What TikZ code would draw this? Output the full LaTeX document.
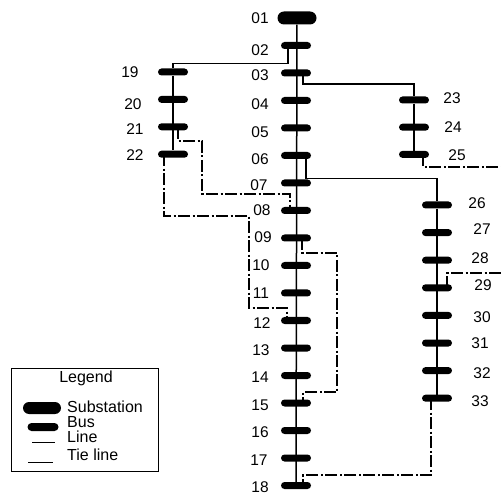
\documentclass[tikz,border=0pt]{standalone}
\usepackage{fontspec}
\setmainfont{Liberation Sans}
\usetikzlibrary{calc}

\begin{document}
\begin{tikzpicture}[x=1pt, y=-1pt,
  bus/.style={fill=black, rounded corners=3.5pt, minimum width=30pt, minimum height=7pt, inner sep=0pt},
  sub/.style={fill=black, rounded corners=6.5pt, minimum width=39pt, minimum height=13pt, inner sep=0pt},
  feeder/.style={line width=1.5pt},
  tie/.style={line width=1.5pt, dash pattern=on 12pt off 2.5pt on 2pt off 2.5pt},
  num/.style={font=\fontsize{15.5}{16}\selectfont, inner sep=0pt},
  leg/.style={font=\fontsize{16}{17}\selectfont, inner sep=0pt, anchor=west}
]
  \useasboundingbox (0,0) rectangle (501,497);
  % buses
  \node[sub] (b1) at (297,18) {};
  \foreach \i in {2,...,18}
    \node[bus] (b\i) at (296,{18+27.5*(\i-1)}) {};
  \foreach \i in {19,...,22}
    \node[bus] (b\i) at (173,{72+27.4*(\i-19)}) {};
  \foreach \i in {23,...,25}
    \node[bus] (b\i) at (414,{100+27.2*(\i-23)}) {};
  \foreach \i in {26,...,33}
    \node[bus] (b\i) at (437,{205+27.6*(\i-26)}) {};
  % bus numbers
  \foreach \t/\x/\y in {01/260/18, 02/260/50, 03/260/75, 04/260/104, 05/260/132,
      06/260/159, 07/259/185, 08/262/210, 09/263/237, 10/261/265, 11/261/293,
      12/262/323, 13/261/350, 14/260/377, 15/260/405, 16/260/432, 17/259/460,
      18/260/487, 19/130/72, 20/133/104, 21/135/129, 22/135/155, 23/452/98,
      24/453/127, 25/457/155, 26/477/203, 27/482/229, 28/480/258, 29/483/285,
      30/482/317, 31/480/343, 32/482/373, 33/480/401}
    \node[num] (n\t) at (\x,\y) {\t};
  % lines
  \draw[feeder] (b1) -- (b18);
  \draw[feeder] (b19) -- (b22);
  \draw[feeder] (b23) -- (b25);
  \draw[feeder] (b26) -- (b33);
  \draw[feeder] ($(b2)+(-8,0)$) -- ++(0,18) -| (b19);
  \draw[feeder] ($(b3)+(7,0)$) -- ++(0,11) -| (b23);
  \draw[feeder] ($(b6)+(10,0)$) -- ++(0,23) -| (b26);
  % tie lines
  \coordinate (edgeA) at (501,167);
  \coordinate (edgeB) at (501,273);
  \draw[tie] ($(b21)+(5,0)$) -- ++(0,14) -- ++(24,0) -- ++(0,53) -| ($(b8)+(-6,0)$);
  \draw[tie] ($(b22)+(-9,0)$) -- ++(0,62) -- ++(85,0) -- ++(0,92) -| ($(b12)+(-9,0)$);
  \draw[tie] ($(b9)+(6,0)$) -- ++(0,15) -- ++(35,0) -- ++(0,139) -| ($(b15)+(7,0)$);
  \draw[tie] ($(b33)+(-6,0)$) -- ++(0,77) -| ($(b18)+(7,0)$);
  \draw[tie] ($(b25)+(9,0)$) |- (edgeA);
  \draw[tie] ($(b29)+(10,0)$) |- (edgeB);
  % legend
  \node[draw, line width=0.9pt, minimum width=147pt, minimum height=103pt, inner sep=0pt] (legend) at (84.5,419.5) {};
  \node[leg, anchor=center] (ltitle) at (86,378) {Legend};
  \node[sub, minimum width=38pt, minimum height=12pt, rounded corners=6pt] (lsub) at (42,408) {};
  \node[bus, minimum width=31pt, minimum height=8pt, rounded corners=4pt] (lbus) at (43,427) {};
  \draw[line width=1pt] (32,442) -- (55,442);
  \draw[line width=1pt] (28,462) -- (53,462);
  \node[leg] (tsub) at (67,407) {Substation};
  \node[leg] (tbus) at (67,422) {Bus};
  \node[leg] (tline) at (67,437) {Line};
  \node[leg] (ttie) at (67,455) {Tie line};
\end{tikzpicture}
\end{document}
